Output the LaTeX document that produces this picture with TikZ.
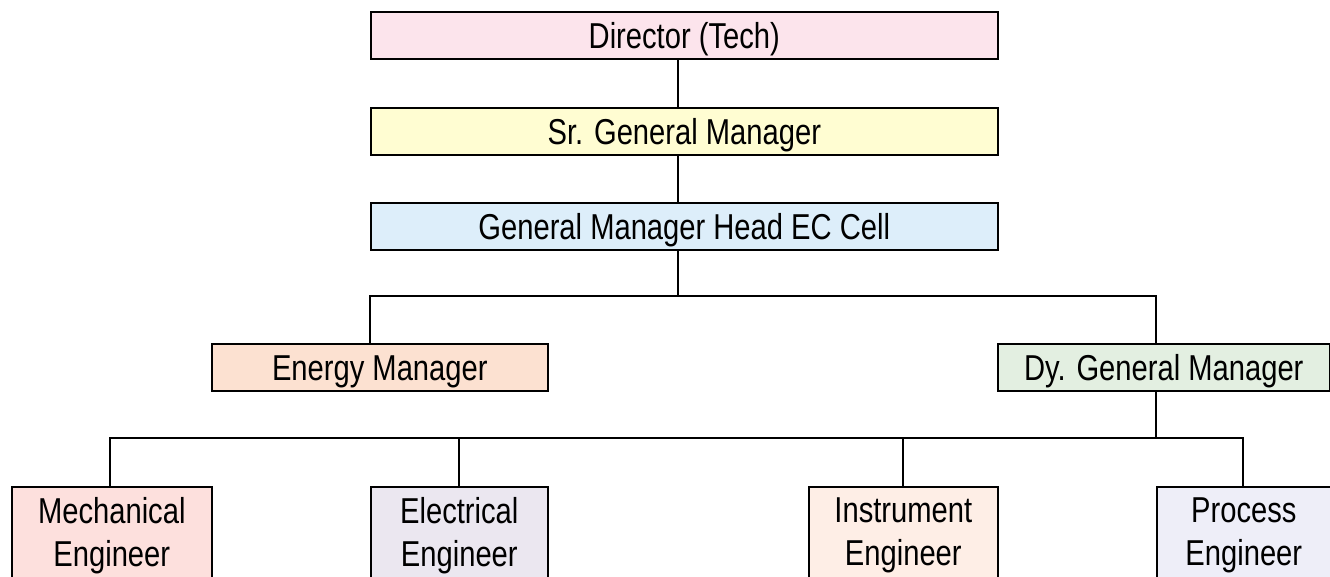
\documentclass[tikz,border=0pt]{standalone}
\usepackage{fontspec}
\setmainfont{Liberation Sans}[FakeStretch=0.81]
\definecolor{cPink}{HTML}{FCE4EC}
\definecolor{cYellow}{HTML}{FFFDD2}
\definecolor{cBlue}{HTML}{DDEEFA}
\definecolor{cPeach}{HTML}{FCE1D1}
\definecolor{cGreen}{HTML}{E3EFE1}
\definecolor{cMech}{HTML}{FDE0DD}
\definecolor{cElec}{HTML}{EBE7F0}
\definecolor{cInstr}{HTML}{FEEEE6}
\definecolor{cProc}{HTML}{EEEEF8}
\tikzset{
  box/.style={draw=black, line width=1.6pt, rectangle, anchor=north west, inner sep=0pt, align=center,
    font=\fontsize{36}{43}\selectfont},
  single/.style={box, minimum height=47pt, text height=30pt, text depth=3pt},
  wide/.style={single, minimum width=627pt},
  mid/.style={single},
  low/.style={box, minimum height=98pt},
  link/.style={draw=black, line width=1.4pt}
}
\begin{document}
\begin{tikzpicture}[x=1pt,y=-1pt]
\useasboundingbox (0,0) rectangle (1330,577);
\clip (0,0) rectangle (1330,577);
\fill[white] (0,0) rectangle (1330,577);
% top chain
\node[wide, fill=cPink] (dir) at (370,11) {Director (Tech)};
\node[wide, fill=cYellow] (sgm) at (370,107) {Sr. General Manager};
\node[wide, fill=cBlue] (gm) at (370,202) {General Manager Head EC Cell};
% second level
\node[mid, minimum width=336pt, fill=cPeach] (em) at (211,343) {Energy Manager};
\node[mid, minimum width=332pt, fill=cGreen] (dgm) at (997,343) {Dy. General Manager};
% bottom level
\node[low, minimum width=200pt, fill=cMech] (mech) at (11,486) {Mechanical\\Engineer};
\node[low, minimum width=177pt, fill=cElec] (elec) at (370,486) {Electrical\\Engineer};
\node[low, minimum width=189pt, fill=cInstr] (inst) at (808,486) {Instrument\\Engineer};
\node[low, minimum width=174pt, fill=cProc] (proc) at (1156,486) {Process\\Engineer};
% junctions
\coordinate (j1) at (678,296);
\coordinate (j1l) at (370,296);
\coordinate (j1r) at (1156,296);
\coordinate (j2) at (1156,438);
\coordinate (j2a) at (110,438);
\coordinate (j2b) at (459,438);
\coordinate (j2c) at (903,438);
\coordinate (j2d) at (1243,438);
% connectors
\draw[link] (dir.south -| j1) -- (sgm.north -| j1);
\draw[link] (sgm.south -| j1) -- (gm.north -| j1);
\draw[link] (gm.south -| j1) -- (j1);
\draw[link] (em.north -| j1l) -- (j1l) -- (j1r) -- (dgm.north -| j1r);
\draw[link] (dgm.south -| j2) -- (j2);
\draw[link] (mech.north -| j2a) -- (j2a) -- (j2d) -- (proc.north -| j2d);
\draw[link] (j2b) -- (elec.north -| j2b);
\draw[link] (j2c) -- (inst.north -| j2c);
\end{tikzpicture}
\end{document}
